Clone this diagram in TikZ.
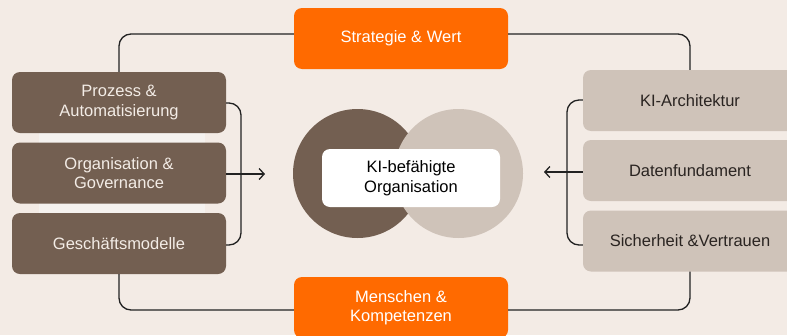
\documentclass[tikz,border=0pt]{standalone}
\usepackage{fontspec}
\setmainfont{Liberation Sans}
\usetikzlibrary{arrows.meta,calc}
\definecolor{bg}{HTML}{F3EBE5}
\definecolor{strip}{HTML}{F5F2EF}
\definecolor{darkbrown}{HTML}{735F51}
\definecolor{taupe}{HTML}{CFC3B9}
\definecolor{orangex}{HTML}{FF6A00}
\definecolor{linec}{HTML}{222222}
\definecolor{cream}{HTML}{F3ECE6}
\definecolor{darktext}{HTML}{2A2421}
\tikzset{
  boxbase/.style={rectangle, rounded corners=8pt, minimum width=214pt, minimum height=61pt,
    align=center, inner sep=0pt, font=\fontsize{16.5}{19.5}\selectfont},
  leftbox/.style={boxbase, fill=darkbrown, text=cream},
  rightbox/.style={boxbase, fill=taupe, text=darktext},
  orangebox/.style={boxbase, fill=orangex, text=white},
  conn/.style={draw=linec, line width=1.3pt, rounded corners=12pt},
  arr/.style={draw=linec, line width=1.3pt, -{Straight Barb[length=5pt,width=11pt,line width=1.3pt]}}
}
\begin{document}
\begin{tikzpicture}[x=1pt,y=-1pt]
\useasboundingbox (0,0) rectangle (787,335);
\fill[bg] (0,0) rectangle (787,335);
\fill[strip] (39,130) rectangle (205,216);

\node[leftbox] (L1) at (119,102.5) {Prozess \&\\Automatisierung};
\node[leftbox] (L2) at (119,173) {Organisation \&\\Governance};
\node[leftbox] (L3) at (119,243.5) {Geschäftsmodelle};

\node[rightbox] (R1) at (690,100.5) {KI-Architektur};
\node[rightbox] (R2) at (690,170.5) {Datenfundament};
\node[rightbox] (R3) at (690,241) {Sicherheit \&Vertrauen};

\node[orangebox] (top) at (401,38.5) {Strategie \& Wert};
\node[orangebox] (bot) at (401,307.5) {Menschen \&\\Kompetenzen};

\node[circle, fill=darkbrown, minimum size=129pt, inner sep=0pt] (cL) at (357.5,173.5) {};
\node[circle, fill=taupe, minimum size=129pt, inner sep=0pt] (cR) at (458.5,173.5) {};
\node[rectangle, rounded corners=8pt, fill=white, minimum width=178pt, minimum height=58pt,
  align=center, inner sep=0pt, text=black, font=\fontsize{16.5}{19.5}\selectfont] (center) at (411,178)
  {KI-befähigte\\Organisation};

\coordinate (brkL) at (241,174);
\coordinate (brkR) at (567,172);
\coordinate (tipL) at (265,174);
\coordinate (tipR) at (544,172);

% outer connectors
\draw[conn] (top.west |- 0,34) -| (L1.north);
\draw[conn] (top.east |- 0,34) -| (R1.north);
\draw[conn] (L3.south) |- (bot.west |- 0,310);
\draw[conn] (R3.south) |- (bot.east |- 0,310);

% brackets
\draw[conn] (L1.east |- 0,103) -| (brkL) |- (L3.east |- 0,245);
\draw[conn] (R1.west |- 0,100) -| (brkR) |- (R3.west |- 0,245);

% arrows
\draw[arr] (L2.east |- tipL) -- (tipL);
\draw[arr] (R2.west |- tipR) -- (tipR);
\end{tikzpicture}
\end{document}
